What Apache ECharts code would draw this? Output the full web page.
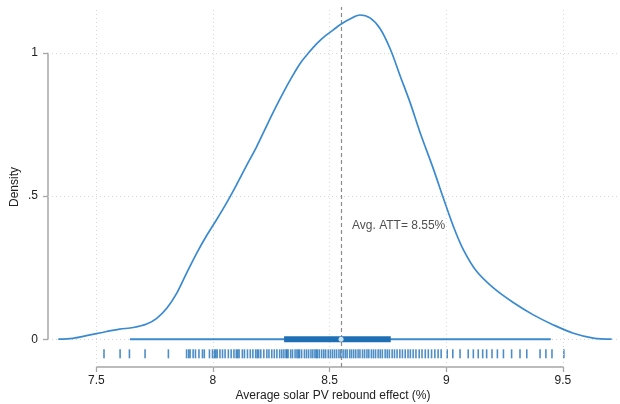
<!DOCTYPE html>
<html>
<head>
<meta charset="utf-8">
<script src="https://cdn.jsdelivr.net/npm/echarts@6/dist/echarts.min.js"></script>
<style>html,body{margin:0;padding:0;background:#fff}#c{width:620px;height:404px}</style>
</head>
<body>
<div id="c"></div>
<script>
// ---- data ----
const xTicks = [7.5, 8, 8.5, 9, 9.5];
const yTicks = [0, 0.5, 1];
const yTickLabels = ['0', '.5', '1'];
const xTitle = 'Average solar PV rebound effect (%)';
const yTitle = 'Density';

const densityX = [7.337, 7.40, 7.473, 7.545, 7.60, 7.659, 7.716, 7.759, 7.802, 7.845, 7.887, 7.93, 7.973, 8.016, 8.059, 8.102, 8.145, 8.187, 8.230, 8.266, 8.302, 8.338, 8.373, 8.41, 8.445, 8.48, 8.516, 8.545, 8.587, 8.63, 8.673, 8.716, 8.759, 8.802, 8.845, 8.888, 8.945, 8.987, 9.03, 9.073, 9.13, 9.202, 9.287, 9.373, 9.459, 9.545, 9.63, 9.709];
const densityY = [0, 0.003, 0.015, 0.027, 0.035, 0.041, 0.053, 0.073, 0.108, 0.161, 0.231, 0.30, 0.362, 0.418, 0.477, 0.541, 0.608, 0.672, 0.745, 0.805, 0.862, 0.915, 0.962, 1.0, 1.032, 1.058, 1.08, 1.098, 1.118, 1.132, 1.122, 1.085, 1.015, 0.92, 0.826, 0.721, 0.594, 0.494, 0.395, 0.313, 0.237, 0.179, 0.128, 0.085, 0.05, 0.021, 0.004, 0];

const rugValues = [7.533, 7.602, 7.642, 7.709, 7.809,
  7.887, 7.896, 7.902, 7.915, 7.925, 7.94, 7.955, 7.963, 7.985, 7.998, 8.006, 8.012, 8.018, 8.03, 8.041, 8.052, 8.066, 8.078, 8.09, 8.1, 8.106, 8.112, 8.126, 8.135, 8.148, 8.16, 8.171, 8.183, 8.19, 8.196, 8.205, 8.218, 8.231, 8.24, 8.252, 8.263, 8.274, 8.286, 8.295, 8.304, 8.313, 8.317, 8.322, 8.333, 8.341, 8.352, 8.36, 8.366, 8.371, 8.38, 8.392, 8.401, 8.41, 8.42, 8.428, 8.437, 8.443, 8.448, 8.456, 8.466, 8.475, 8.483, 8.494, 8.503, 8.512, 8.521, 8.53, 8.54, 8.548, 8.558, 8.567, 8.575, 8.586, 8.594, 8.603, 8.612, 8.622, 8.63, 8.641, 8.65, 8.66, 8.668, 8.679, 8.688, 8.697, 8.708, 8.717, 8.726, 8.738, 8.747, 8.756, 8.768, 8.778, 8.789, 8.801, 8.812, 8.824, 8.836, 8.846, 8.858, 8.87, 8.884, 8.896, 8.91, 8.923, 8.937, 8.951, 8.965, 8.978,
  9.004, 9.028, 9.059, 9.094, 9.116, 9.137, 9.156, 9.173, 9.196, 9.219, 9.245, 9.28, 9.316, 9.345, 9.402, 9.427, 9.453, 9.504];

const boxWhiskers = [7.644, 9.448];
const boxQuartiles = [8.305, 8.762];
const boxMedian = 8.549;
const meanATT = 8.55;
const annotText = 'Avg. ATT= 8.55%';
const annotPos = [8.596, 0.396];

// ---- layout constants ----
const xMin = 7.293, xMax = 9.736, yMin = -0.097, yMax = 1.16;
const rugLevel = -0.051, boxLevel = 0;

const axisGrey = '#a6a6a6';
const txt = '#222';
const font = 'Liberation Sans, Arial, sans-serif';
const curveColor = '#3a8ad0';
const boxColor = '#1f6fb5';

const chart = echarts.init(document.getElementById('c'), null, {renderer: 'canvas'});
chart.setOption({
  animation: false,
  grid: {left: 48, top: 7, width: 570, height: 360, containLabel: false, outerBoundsMode: 'none'},
  xAxis: {
    type: 'value', min: xMin, max: xMax,
    axisLine: {show: false, onZero: false},
    splitLine: {show: false},
    axisTick: {show: true, customValues: xTicks, length: 5, lineStyle: {color: axisGrey, width: 1.3}},
    axisLabel: {customValues: xTicks, margin: 8, color: txt, fontSize: 12, fontFamily: font,
      formatter: v => String(v)},
    name: xTitle, nameLocation: 'middle', nameGap: 23, nameMoveOverlap: false,
    nameTextStyle: {color: txt, fontSize: 12, fontFamily: font}
  },
  yAxis: {
    type: 'value', min: yMin, max: yMax,
    axisLine: {show: false, onZero: false},
    splitLine: {show: false},
    axisTick: {show: true, customValues: yTicks, length: 5, lineStyle: {color: axisGrey, width: 1.3}},
    axisLabel: {customValues: yTicks, margin: 10, color: txt, fontSize: 12, fontFamily: font,
      formatter: v => { const i = yTicks.findIndex(t => Math.abs(t - v) < 1e-9); return i >= 0 ? yTickLabels[i] : ''; }},
    name: yTitle, nameLocation: 'middle', nameGap: 27, nameMoveOverlap: false,
    nameTextStyle: {color: txt, fontSize: 12, fontFamily: font}
  },
  series: [
    { // grid lines
      type: 'line', data: [], silent: true,
      markLine: {
        silent: true, symbol: ['none', 'none'], label: {show: false},
        lineStyle: {color: '#d6d6d6', type: [1, 3], width: 1},
        data: xTicks.map(v => ({xAxis: v})).concat(yTicks.map(v => ({yAxis: v})))
      }
    },
    { // mean line
      type: 'line', data: [], silent: true,
      markLine: {
        silent: true, symbol: ['none', 'none'], label: {show: false},
        lineStyle: {color: '#8c8c8c', type: [4, 3], width: 1.2},
        data: [{xAxis: meanATT}]
      }
    },
    { // x axis line
      type: 'line', clip: false, symbol: 'none', silent: true,
      lineStyle: {color: axisGrey, width: 1.5},
      data: [[xTicks[0], yMin], [xTicks[xTicks.length - 1], yMin]]
    },
    { // y axis line
      type: 'line', clip: false, symbol: 'none', silent: true,
      lineStyle: {color: axisGrey, width: 1.5},
      data: [[xMin, yTicks[0]], [xMin, yTicks[yTicks.length - 1]]]
    },
    { // density
      type: 'line', symbol: 'none', smooth: 0.35, z: 5,
      lineStyle: {color: curveColor, width: 1.7},
      data: densityX.map((x, i) => [x, densityY[i]])
    },
    { // whiskers
      type: 'line', symbol: 'none', z: 6,
      lineStyle: {color: curveColor, width: 2},
      data: [[boxWhiskers[0], boxLevel], [boxWhiskers[1], boxLevel]]
    },
    { // box
      type: 'line', symbol: 'none', z: 7,
      lineStyle: {color: boxColor, width: 6, cap: 'butt'},
      data: [[boxQuartiles[0], boxLevel], [boxQuartiles[1], boxLevel]]
    },
    { // median
      type: 'scatter', symbol: 'circle', symbolSize: 5, z: 8,
      itemStyle: {color: '#ffffff', borderWidth: 0},
      data: [[boxMedian, boxLevel]]
    },
    { // rug
      type: 'scatter', symbol: 'rect', symbolSize: [1.6, 9], z: 4,
      itemStyle: {color: '#2170b8', opacity: 0.8},
      data: rugValues.map(v => [v, rugLevel])
    },
    { // annotation
      type: 'scatter', symbolSize: 0, silent: true,
      label: {show: true, position: 'right', distance: 0, formatter: annotText,
        color: txt, fontSize: 12, fontFamily: font},
      data: [annotPos]
    }
  ]
});
</script>
</body>
</html>
